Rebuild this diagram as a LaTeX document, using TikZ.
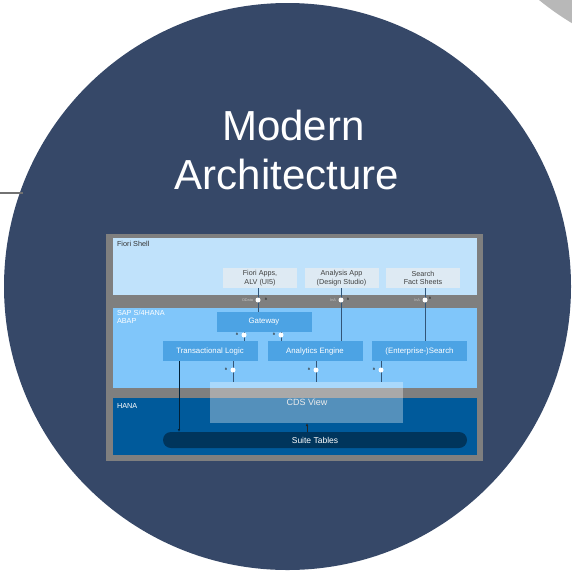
\documentclass[tikz,border=0pt]{standalone}
\usepackage{fontspec}
\setmainfont{Liberation Sans}
\usetikzlibrary{arrows.meta}
\definecolor{navy}{RGB}{54,72,104}
\definecolor{lgray}{RGB}{184,184,184}
\definecolor{frame}{RGB}{127,127,127}
\definecolor{shell}{RGB}{192,226,251}
\definecolor{abap}{RGB}{128,198,250}
\definecolor{hana}{RGB}{0,90,155}
\definecolor{boxblue}{RGB}{76,163,228}
\definecolor{appbox}{RGB}{222,234,243}
\definecolor{suite}{RGB}{0,53,92}
\definecolor{conn}{RGB}{50,85,120}
\tikzset{
  every node/.style={inner sep=0pt, outer sep=0pt},
  region/.style={font=\fontsize{7.3}{8}\selectfont, anchor=north west, align=left},
  appbox/.style={fill=appbox, minimum width=74pt, minimum height=20pt, align=center,
    font=\fontsize{7.2}{8.3}\selectfont, text=black!75},
  compbox/.style={fill=boxblue, minimum width=95pt, minimum height=20pt,
    font=\fontsize{7.8}{8.5}\selectfont, text=white},
  connline/.style={draw=conn, line width=0.9pt},
  agent/.style={circle, fill=white, minimum size=5pt},
  tinylbl/.style={font=\fontsize{3.8}{4}\selectfont, text=black!22},
  rmark/.style={font=\fontsize{3.2}{3.5}\selectfont\bfseries, text=black!80},
  titletext/.style={text=white, font=\fontsize{42}{50}\selectfont, anchor=base},
}
\begin{document}
\begin{tikzpicture}[x=1pt,y=-1pt]
\useasboundingbox (0,0) rectangle (572,571);
\begin{scope}
\clip (0,0) rectangle (572,571);
\fill[lgray] (716,-217) circle (280);
\fill[navy] (287.5,286.5) circle (283.5);
\end{scope}
\coordinate (lineL) at (0,193);
\coordinate (lineR) at (23,193);
\draw[frame!90!black, line width=1.2pt] (lineL) -- (lineR);

\node[titletext] (t1) at (293.5,140) {Modern};
\node[titletext] (t2) at (287,189) {Architecture};

% frame and layers
\fill[frame] (106,234) rectangle (483,461);
\fill[shell] (113,238) rectangle (477,295);
\fill[abap] (113,308) rectangle (477,388);
\fill[hana] (113,398) rectangle (477,455);
\node[region, text=black!80] (lfs) at (117,241) {Fiori Shell};
\node[region, text=white] (lab) at (117,310) {SAP S/4HANA\\ABAP};
\node[region, text=white] (lhn) at (117,403) {HANA};

% boxes
\node[appbox] (fa) at (260,278) {Fiori Apps,\\ALV (UI5)};
\node[appbox] (aa) at (341.5,278) {Analysis App\\(Design Studio)};
\node[appbox] (sf) at (423,278) {Search\\Fact Sheets};
\node[compbox] (gw) at (264,322) {Gateway};
\node[compbox] (tl) at (210,351) {Transactional Logic};
\node[compbox] (ae) at (315,351) {Analytics Engine};
\node[compbox] (es) at (419.5,351) {(Enterprise-)Search};
\node[fill=suite, rounded corners=8pt, minimum width=304pt, minimum height=16pt,
  font=\fontsize{8.5}{9}\selectfont, text=white] (st) at (315,440) {Suite Tables};

% connectors
\draw[connline] (fa.south -| 258,0) -- (gw.north -| 258,0);
\draw[connline] (aa.south -| 341,0) -- (ae.north -| 341,0);
\draw[connline] (sf.south -| 425,0) -- (es.north -| 425,0);
\draw[connline] (gw.south -| 244,0) -- (tl.north -| 244,0);
\draw[connline] (gw.south -| 281,0) -- (ae.north -| 281,0);
\draw[connline] (tl.south -| 233,0) -- (233,382);
\draw[connline] (ae.south -| 316,0) -- (316,382);
\draw[connline] (es.south -| 381,0) -- (381,382);
\draw[draw=suite!60!black, line width=0.6pt, -{Latex[length=3pt,width=2.5pt]}] (tl.south -| 179,0) -- (st.north -| 179,0);

% CDS view overlay
\node[fill=white, fill opacity=0.33, text opacity=1, minimum width=193pt, minimum height=41pt] (cds) at (306.5,402.5) {};
\node[text=white!92!black, font=\fontsize{9}{10}\selectfont] (cdst) at (307,402) {CDS View};
\draw[draw=black!85, line width=0.6pt, -{Latex[length=3pt,width=2.5pt]}] (st.north -| 307,0) -- (cds.south -| 307,0);

% agents
\node[agent] (a1) at (258,300) {};
\node[agent] (a2) at (341,300) {};
\node[agent] (a3) at (425,300) {};
\node[agent] (a4) at (244,335) {};
\node[agent] (a5) at (281,335) {};
\node[agent] (a6) at (233,370) {};
\node[agent] (a7) at (316,370) {};
\node[agent] (a8) at (381,370) {};
\node[tinylbl, anchor=east] (l1) at (253,300) {OData};
\node[tinylbl, anchor=east] (l2) at (336,300) {InA};
\node[tinylbl, anchor=east] (l3) at (420,300) {InA};
\node[rmark] (r1) at (266,299) {R};
\node[rmark] (r2) at (348,299) {R};
\node[rmark] (r3) at (430,298) {R};
\node[rmark] (r4) at (237,334) {R};
\node[rmark] (r5) at (274,334) {R};
\node[rmark] (r6) at (226,369) {R};
\node[rmark] (r7) at (309,369) {R};
\node[rmark] (r8) at (374,369) {R};
\end{tikzpicture}
\end{document}
